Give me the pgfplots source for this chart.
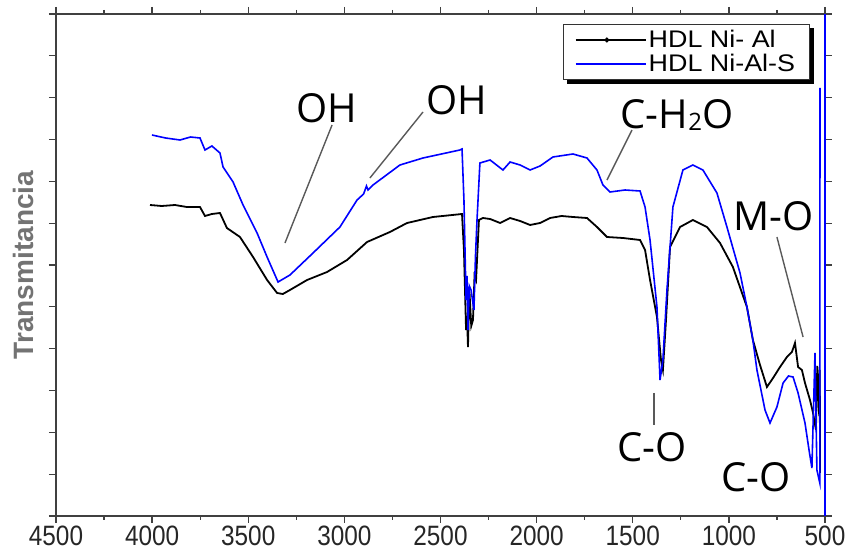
\documentclass[border=0pt]{standalone}
\usepackage{fontspec}
\setmainfont{Liberation Sans}
\newfontfamily\annfont{Open Sans}
\newfontfamily\tickfont[FakeStretch=0.87]{Liberation Sans}
\newfontfamily\legfont[FakeStretch=1.12]{Liberation Sans}
\usepackage{pgfplots}
\pgfplotsset{compat=1.18}

\begin{document}
\begin{tikzpicture}
\path[use as bounding box] (-56pt,-35pt) rectangle (793pt,516pt);
\begin{axis}[
  at={(0pt,0pt)}, anchor=south west,
  scale only axis, width=769pt, height=502pt,
  x dir=reverse, xmin=500, xmax=4500, ymin=0, ymax=502,
  xtick={500,1000,...,4500}, minor x tick num=1,
  ytick={0,41.8333,...,502}, yticklabel={\phantom{}},
  tick align=outside,
  major tick length=7pt, minor tick length=4pt,
  axis line style={black!75, line width=1.6pt},
  tick style={black!75, line width=1.3pt},
  xticklabel style={font=\tickfont\fontsize{28}{29}\selectfont, text=black!85, inner sep=1pt, yshift=-2pt},
  /pgf/number format/1000 sep={}, /pgf/number format/assume math mode=true,
  clip=false,
  legend style={name=leg, at={(0.98,0.98)}, anchor=north east, draw=black!80, line width=1pt,
    fill=white, font=\legfont\fontsize{24}{26}\selectfont, inner xsep=12pt, inner ysep=4pt,
    row sep=1pt},
  legend cell align=left,
  legend image code/.code={\path (0pt,0pt) -- (70pt,0pt);\draw[mark repeat=2,mark phase=2,#1] plot coordinates {(0pt,0pt) (31pt,0pt) (62pt,0pt)};},
]
\addplot[black, line width=1.8pt, forget plot] table {
4011 311
3950 310
3881 311
3820 309
3751 309
3725 300
3689 302
3647 303
3611 288
3543 279
3475 259
3402 236
3350 223
3320 222
3283 226
3194 236
3090 244
2986 256
2882 274
2763 284
2674 293
2539 299
2388 302
2378 266
2367 186
2362 200
2357 169
2352 210
2347 216
2340 190
2331 196
2323 240
2315 236
2300 296
2279 298
2242 297
2190 293
2138 298
2086 295
2034 291
1982 293
1930 298
1870 300
1811 299
1738 298
1686 289
1634 279
1551 278
1462 276
1436 266
1410 236
1374 199
1353 156
1343 146
1327 196
1306 269
1254 289
1187 296
1114 289
1046 273
979 249
906 209
875 176
838 151
802 129
770 138
734 149
698 159
672 164
656 173
640 149
620 146
604 133
578 116
562 103
547 86
540 150
530 100
527 146
526 43
};
\addplot[blue, line width=1.6pt, forget plot] table {
4001 381
3930 378
3855 376
3800 379
3751 378
3725 366
3689 370
3647 363
3631 349
3579 334
3527 311
3454 283
3402 259
3345 234
3283 241
3163 263
3023 289
2934 316
2900 322
2885 330
2877 326
2851 331
2711 351
2591 358
2399 366
2388 367
2378 316
2367 216
2362 240
2357 186
2350 230
2341 226
2326 206
2318 260
2310 296
2295 353
2242 356
2175 346
2138 354
2086 351
2034 346
1982 350
1915 359
1811 362
1738 358
1686 346
1655 331
1618 324
1540 326
1462 325
1436 309
1410 276
1374 209
1358 136
1343 156
1322 226
1291 309
1239 346
1187 351
1135 346
1062 323
1010 289
942 243
906 209
875 176
854 146
812 106
786 93
750 109
718 133
690 140
666 139
640 123
604 93
583 66
568 48
552 163
542 46
527 33
526 428
};
\addplot[blue, line width=1.6pt, forget plot] coordinates {(500,0) (500,502)};
\addlegendimage{black, line width=1.6pt, mark=*, mark size=1.6pt}
\addlegendentry{HDL Ni- Al}
\addlegendimage{color=blue, line width=1.6pt}
\addlegendentry{HDL Ni-Al-S}

\draw[black!65, line width=1.4pt] (axis cs:3064,391) -- (axis cs:3309,273);
\draw[black!65, line width=1.4pt] (axis cs:2591,404) -- (axis cs:2867,338);
\draw[black!65, line width=1.4pt] (axis cs:1504,386) -- (axis cs:1634,336);
\draw[black!65, line width=1.4pt] (axis cs:750,279) -- (axis cs:614,179);
\draw[black!65, line width=1.4pt] (axis cs:1389,123) -- (axis cs:1389,91);

\begin{scope}[every node/.style={font=\annfont\fontsize{40}{40}\selectfont, inner sep=0pt}]
\node at (axis cs:3090,408) {OH};
\node at (axis cs:2414,416) {OH};
\node at (axis cs:1270,401) {C-H{\fontsize{24}{24}\selectfont\raisebox{-2pt}{2}}O};
\node at (axis cs:770,300) {M-O};
\node at (axis cs:1400,69) {C-O};
\node at (axis cs:859,39) {C-O};
\end{scope}
\end{axis}
\fill[black] ([xshift=0.5pt,yshift=-4pt]leg.north east) rectangle ([xshift=4pt,yshift=-4pt]leg.south east);
\fill[black] ([xshift=4pt,yshift=-0.5pt]leg.south west) rectangle ([xshift=4pt,yshift=-4pt]leg.south east);
\node[rotate=90, font=\bfseries\fontsize{28}{30}\selectfont, text=black!55] at (-33pt,251pt) {Transmitancia};
\end{tikzpicture}
\end{document}
